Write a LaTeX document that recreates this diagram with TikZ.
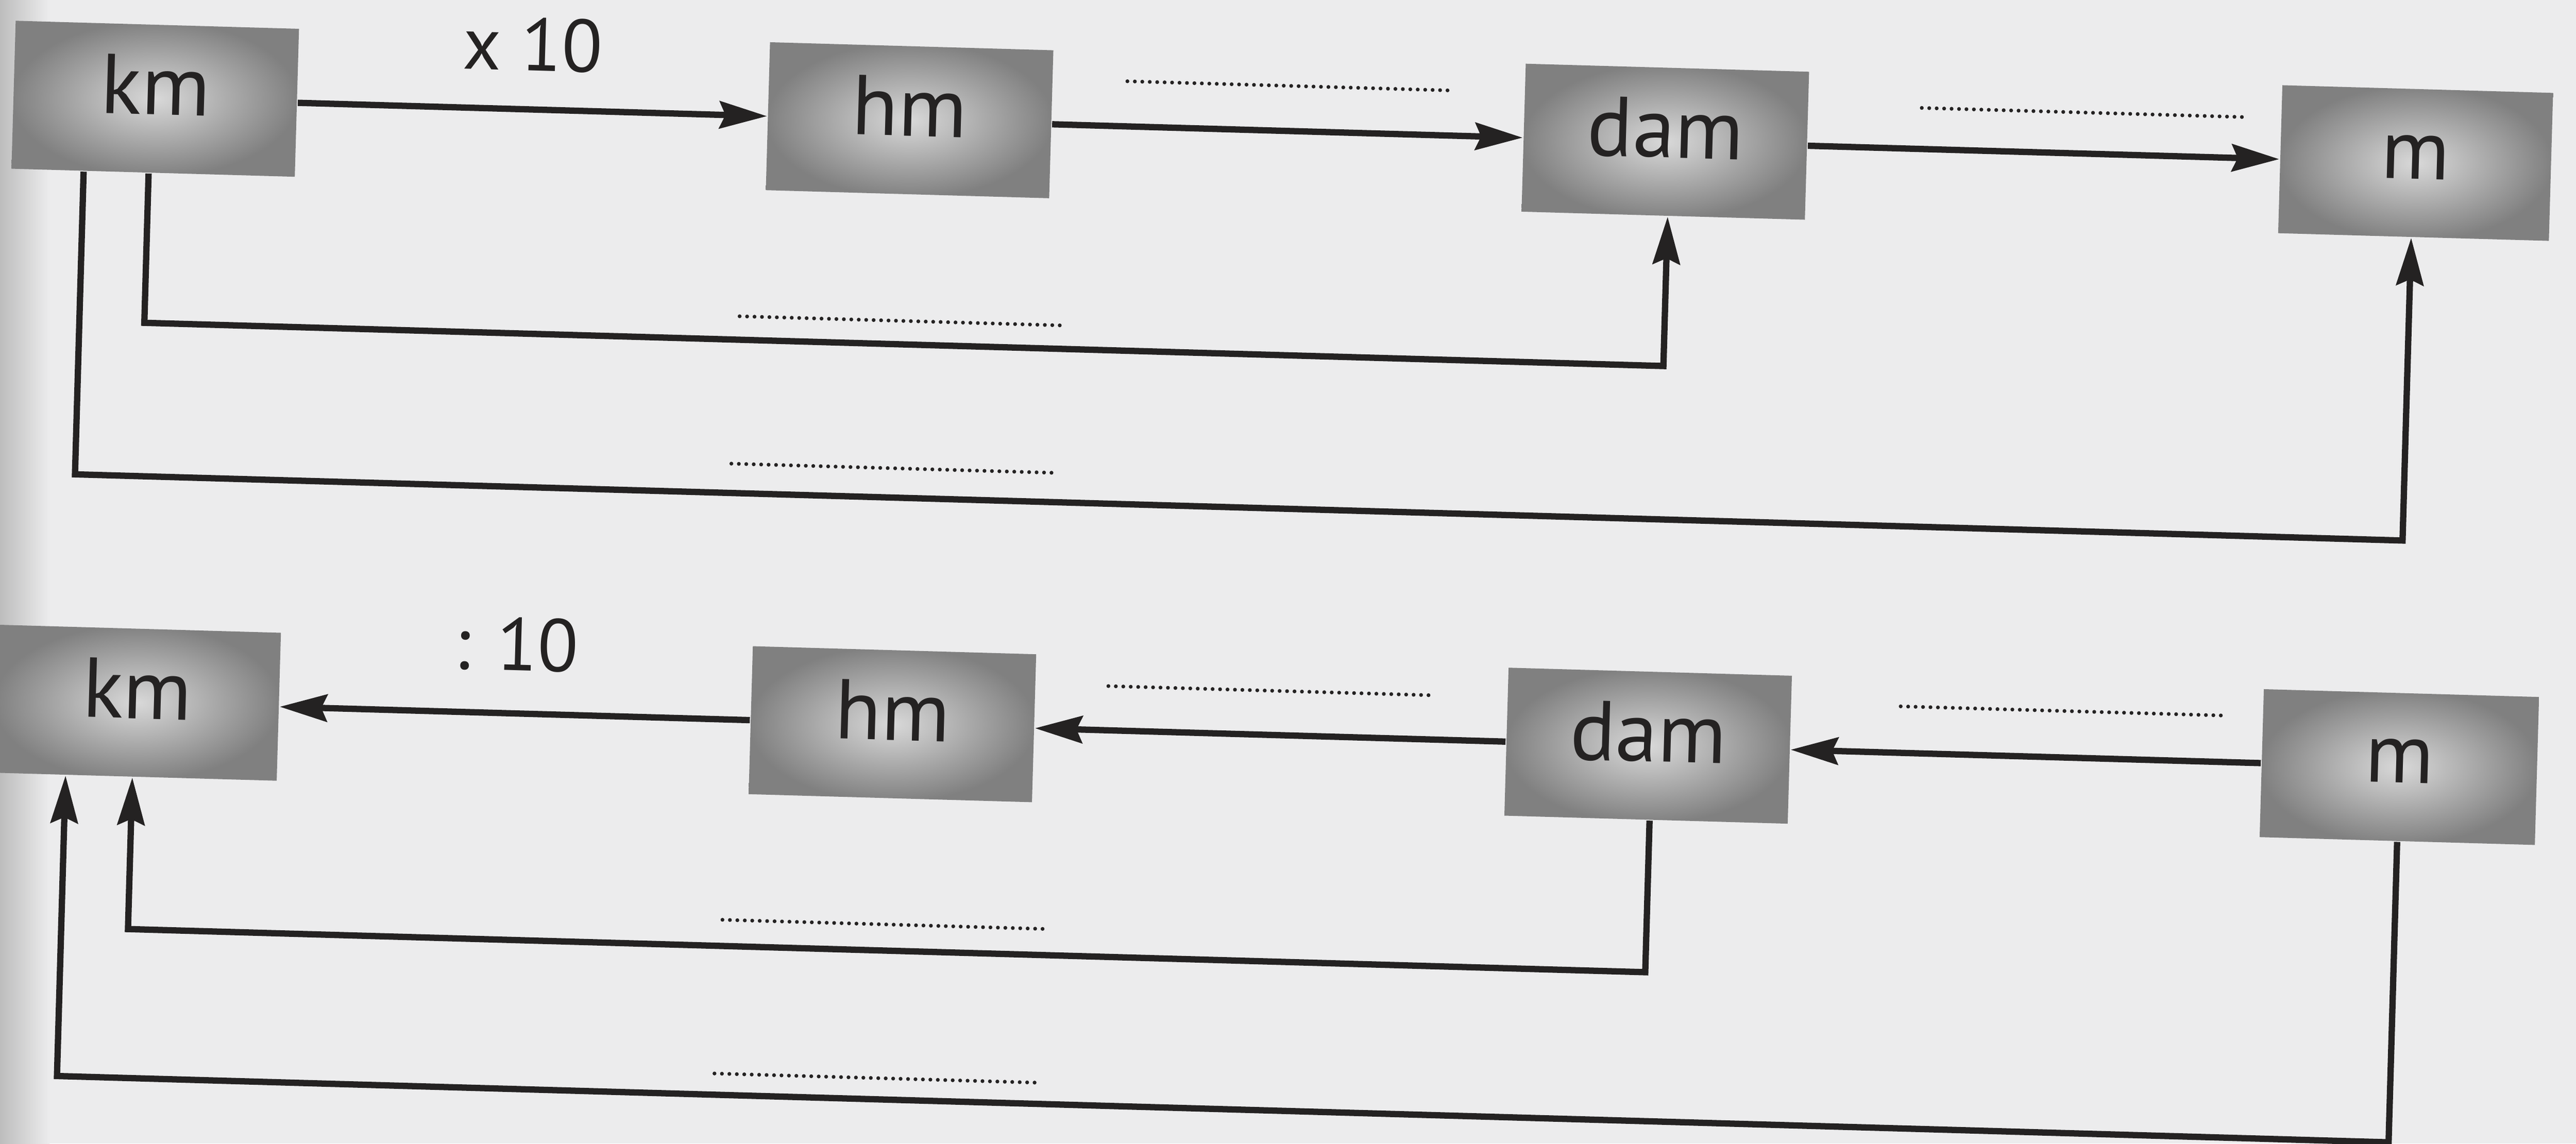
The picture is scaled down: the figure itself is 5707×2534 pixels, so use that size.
\documentclass[tikz,border=0pt]{standalone}
\usepackage{fontspec}
\setmainfont{PT Sans}
\usetikzlibrary{arrows.meta,calc}
\definecolor{paper}{RGB}{236,236,237}
\definecolor{ink}{RGB}{36,34,34}
\begin{document}
\begin{tikzpicture}[x=0.1pt,y=-0.1pt,
  unitbox/.style={rectangle, inner sep=0pt, minimum width=62.8pt, minimum height=32.8pt,
    inner color=black!15, outer color=black!50, text=ink,
    font=\fontsize{18.8pt}{20pt}\selectfont, text height=13pt, text depth=6pt},
  conn/.style={draw=ink, line width=1.4pt, -{Stealth[length=10.5pt,width=6pt,inset=1.3pt]}},
  blank/.style={draw=ink, line width=0.85pt, line cap=round, dash pattern=on 0pt off 1.65pt},
  oplabel/.style={text=ink, font=\fontsize{16.5pt}{18pt}\selectfont, inner sep=0pt}]
\fill[paper] (0,0) rectangle (5707,2534);
\shade[left color=black!26, right color=paper] (0,0) rectangle (110,2534);
\useasboundingbox (0,0) rectangle (5707,2534);
\begin{scope}[rotate=-1.63, transform shape]
  % top row: multiply by 10
  \node[unitbox] (kmA) at (350,209) {km};
  \node[unitbox] (hmA) at (2022,209) {hm};
  \node[unitbox] (damA) at (3697,209) {dam};
  \node[unitbox, minimum width=60pt] (mA) at (5360,209) {m};
  \node[oplabel] (times) at (1183,65) {x 10};
  \draw[conn] (kmA) -- (hmA);
  \draw[conn] (hmA) -- (damA);
  \draw[conn] (damA) -- (mA);
  \coordinate (l1a) at (340,706);
  \coordinate (l1b) at (3707,706);
  \draw[conn] ($(kmA.south)+(-10,0)$) -- (l1a) -- (l1b) -- ($(damA.south)+(10,0)$);
  \coordinate (l2a) at (196,1046);
  \coordinate (l2b) at (5355,1046);
  \draw[conn] ($(kmA.south)+(-154,0)$) -- (l2a) -- (l2b) -- ($(mA.south)+(-5,0)$);
  % blanks, top
  \coordinate (b1s) at (2502,109);  \coordinate (b1e) at (3220,109);
  \coordinate (b2s) at (4263,118);  \coordinate (b2e) at (4981,118);
  \coordinate (b3s) at (1658,654);  \coordinate (b3e) at (2376,654);
  \coordinate (b4s) at (1649,981);  \coordinate (b4e) at (2367,981);
  \draw[blank] (b1s) -- (b1e);
  \draw[blank] (b2s) -- (b2e);
  \draw[blank] (b3s) -- (b3e);
  \draw[blank] (b4s) -- (b4e);
  % bottom row: divide by 10
  \node[unitbox] (kmB) at (348,1548) {km};
  \node[unitbox] (hmB) at (2022,1548) {hm};
  \node[unitbox] (damB) at (3697,1548) {dam};
  \node[unitbox, minimum width=61pt] (mB) at (5362,1548) {m};
  \node[oplabel] (divide) at (1184,1395) {: 10};
  \draw[conn] (hmB) -- (kmB);
  \draw[conn] (damB) -- (hmB);
  \draw[conn] (mB) -- (damB);
  \coordinate (l3a) at (3705,2050);
  \coordinate (l3b) at (342,2050);
  \draw[conn] ($(damB.south)+(8,0)$) -- (l3a) -- (l3b) -- ($(kmB.south)+(-6,0)$);
  \coordinate (l4a) at (5362,2380);
  \coordinate (l4b) at (194,2380);
  \draw[conn] (mB.south) -- (l4a) -- (l4b) -- ($(kmB.south)+(-154,0)$);
  % blanks, bottom
  \coordinate (b5s) at (2498,1450); \coordinate (b5e) at (3216,1450);
  \coordinate (b6s) at (4254,1445); \coordinate (b6e) at (4972,1445);
  \coordinate (b7s) at (1658,1992); \coordinate (b7e) at (2376,1992);
  \coordinate (b8s) at (1650,2333); \coordinate (b8e) at (2368,2333);
  \draw[blank] (b5s) -- (b5e);
  \draw[blank] (b6s) -- (b6e);
  \draw[blank] (b7s) -- (b7e);
  \draw[blank] (b8s) -- (b8e);
\end{scope}
\end{tikzpicture}
\end{document}
